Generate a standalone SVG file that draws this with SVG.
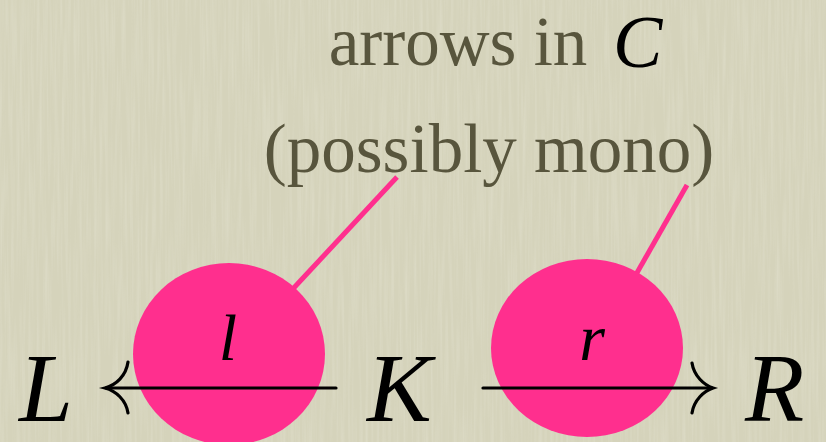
<svg xmlns="http://www.w3.org/2000/svg" width="826" height="442" viewBox="0 0 826 442">
<defs>
<filter id="tex" x="0" y="0" width="100%" height="100%">
<feTurbulence type="fractalNoise" baseFrequency="0.35 0.012" numOctaves="2" seed="3" result="n"/>
<feColorMatrix in="n" type="matrix" values="0 0 0 0 1  0 0 0 0 1  0 0 0 0 0.95  0 0 0 0.9 -0.35"/>
</filter>
<style>
.cap{font-family:"Liberation Serif","Times New Roman",serif;font-size:69px;fill:#58553d;text-anchor:middle}
.math{font-family:"Liberation Serif","Times New Roman",serif;font-style:italic;fill:#000}
.big{font-size:97px}
.lab{font-size:66px;text-anchor:middle}
.blob{fill:#ff2f8e}
.callout{stroke:#ff2f8e;stroke-width:5;fill:none}
.arr{stroke:#000;stroke-width:3.2;fill:none;stroke-linecap:round}
</style>
</defs>
<rect width="826" height="442" fill="#d5d3bb"/>
<rect width="826" height="442" filter="url(#tex)" opacity="0.35"/>
<g id="caption">
<text class="cap" x="458" y="65">arrows in</text>
<text class="math" x="613" y="67" font-size="74">C</text>
<text class="cap" x="489" y="172">(possibly mono)</text>
</g>
<g id="callouts">
<line class="callout" x1="397" y1="177" x2="290" y2="292"/>
<line class="callout" x1="687" y1="185" x2="634" y2="278"/>
</g>
<g id="node-l">
<ellipse class="blob" cx="229" cy="354" rx="96" ry="91"/>
<text class="math lab" x="228" y="360">l</text>
</g>
<g id="node-r">
<ellipse class="blob" cx="587" cy="348" rx="96" ry="89"/>
<text class="math lab" x="592" y="360">r</text>
</g>
<g id="node-L"><text class="math big" x="19" y="421">L</text></g>
<g id="node-K"><text class="math big" x="367" y="421">K</text></g>
<g id="node-R"><text class="math big" x="745" y="421">R</text></g>
<g id="connectors">
<line class="arr" x1="106" y1="388" x2="336" y2="388"/>
<path class="arr" d="M128,362 C126,376 116,385 105,388 C116,391 126,400 128,413"/>
<line class="arr" x1="483" y1="388" x2="712" y2="388"/>
<path class="arr" d="M692,363 C694,376 704,385 713,388 C704,391 694,400 692,413"/>
</g>
</svg>
